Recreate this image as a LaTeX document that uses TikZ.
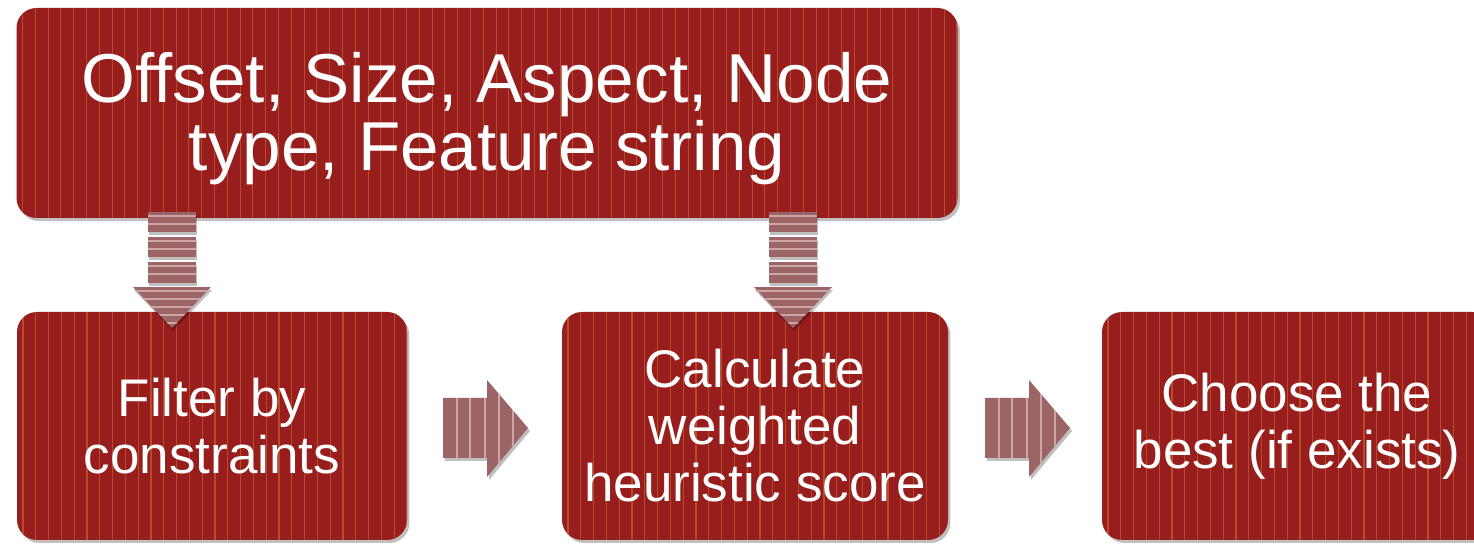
\documentclass[tikz,border=0pt]{standalone}
\usepackage{fontspec}
\setmainfont{Liberation Sans}
\usetikzlibrary{shadows}
\definecolor{boxred}{RGB}{152,30,30}
\definecolor{stripecol}{RGB}{196,92,44}
\definecolor{arrowfill}{RGB}{156,100,100}
\definecolor{arrowstripe}{RGB}{204,166,166}
\tikzset{
  stripeline/.style={draw=stripecol,line width=0.55pt,opacity=0.75},
  redbox/.style={fill=boxred,rounded corners=10pt,text=white,align=center,inner sep=0pt,
    drop shadow={shadow xshift=1.2pt,shadow yshift=-1.5pt,opacity=0.35,fill=black!70},
    path picture={\foreach \k in {0,...,76}{\draw[stripeline] ([xshift=3pt+\k*6.4pt]path picture bounding box.north west) -- ([xshift=3pt+\k*6.4pt]path picture bounding box.south west);}}},
  bigtext/.style={font=\fontsize{34.6}{34}\selectfont},
  smalltext/.style={font=\fontsize{26.5}{28.5}\selectfont},
  ashadow/.style={fill=black,opacity=0.25},
  alight/.style={draw=arrowstripe,line width=0.8pt},
  dnarrow/.pic={
    \foreach \a/\b in {212/232,237/257,262/283}{
      \fill[ashadow] (-23,\a+3) rectangle (25,\b+3);
      \fill[arrowfill] (-24,\a) rectangle (24,\b);
      \draw[alight] (-24,\a+4) -- (24,\a+4);
      \draw[alight] (-24,\a+12) -- (24,\a+12);
    }
    \fill[ashadow] (-38,290) -- (40,290) -- (1,331) -- cycle;
    \begin{scope}
      \clip (-39,287) -- (39,287) -- (0,328) -- cycle;
      \fill[arrowfill] (-39,287) rectangle (39,328);
      \foreach \y in {291,299,307,315,323}{\draw[alight] (-39,\y) -- (39,\y);}
    \end{scope}
  },
  rtarrow/.pic={
    \fill[ashadow] (2,-27) -- (46,-27) -- (46,-45) -- (87,3) -- (46,52) -- (46,33) -- (2,33) -- cycle;
    \begin{scope}
      \clip (0,-30) -- (44,-30) -- (44,-48) -- (85,0) -- (44,49) -- (44,30) -- (0,30) -- cycle;
      \fill[arrowfill] (0,-50) rectangle (86,50);
      \foreach \x in {14,27,42,56,70}{\draw[alight] (\x,-50) -- (\x,50);}
    \end{scope}
  }
}
\begin{document}
\begin{tikzpicture}[x=0.5pt,y=-0.5pt]
\useasboundingbox (0,0) rectangle (1474,544);
\clip (0,0) rectangle (1474,544);
\fill[white] (0,0) rectangle (1474,544);
\node[redbox,bigtext,minimum width=470.5pt,minimum height=105pt] (top) at (487,113)
  {\rule{0pt}{30.3pt}Offset, Size, Aspect, Node\\type, Feature string};
\node[redbox,smalltext,minimum width=195pt,minimum height=114pt] (filter) at (212,426)
  {Filter by\\constraints};
\node[redbox,smalltext,minimum width=193pt,minimum height=114pt] (calc) at (755,426)
  {Calculate\\weighted\\heuristic score};
\node[redbox,smalltext,minimum width=195pt,minimum height=114pt] (choose) at (1297,426)
  {Choose the\\best (if exists)};
\pic at (172,0) {dnarrow};
\pic at (793,0) {dnarrow};
\pic at (443,428) {rtarrow};
\pic at (985,428) {rtarrow};
\end{tikzpicture}
\end{document}
